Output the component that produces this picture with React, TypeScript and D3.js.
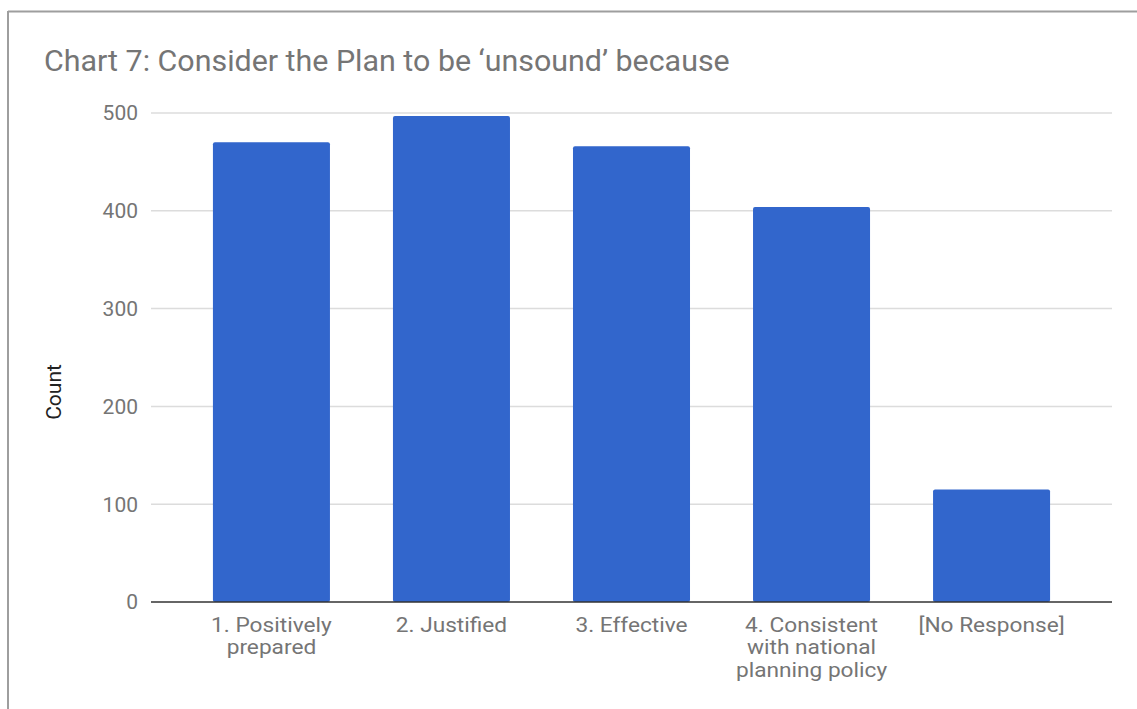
import React from "react";
import * as d3 from "d3";

const categories: string[][] = [
  ["1. Positively", "prepared"],
  ["2. Justified"],
  ["3. Effective"],
  ["4. Consistent", "with national", "planning policy"],
  ["[No Response]"],
];
const values: number[] = [470, 497, 466, 404, 115];
const yTicks: number[] = [0, 100, 200, 300, 400, 500];
const title = "Chart 7: Consider the Plan to be \u2018unsound\u2019 because";
const yTitle = "Count";

const W = 1137;
const H = 709;

export default function App() {
  const x = d3
    .scaleBand<number>()
    .domain(values.map((_, i) => i))
    .range([151, 1112])
    .paddingInner(0.35)
    .paddingOuter(0.344);
  const y = d3.scaleLinear().domain([0, 500]).range([602, 113]);
  const font = "Roboto, 'Noto Sans', sans-serif";
  return (
    <svg
      width={W}
      height={H}
      style={{ position: "absolute", left: 0, top: 0, background: "#fff" }}
      fontFamily={font}
    >
      <rect x={0} y={0} width={W} height={H} fill="#fff" />
      <line x1={8} x2={W} y1={11.5} y2={11.5} stroke="#9e9e9e" strokeWidth={2} />
      <line x1={8} x2={8} y1={11} y2={H} stroke="#9e9e9e" strokeWidth={2} />
      <text x={44} y={71} fontSize={30.4} fill="#757575">
        {title}
      </text>
      {yTicks.map((t) => (
        <g key={t}>
          {t !== 0 && (
            <line x1={151} x2={1112} y1={y(t)} y2={y(t)} stroke="#dcdcdc" strokeWidth={1.5} />
          )}
          <text x={138} y={y(t)} dy="0.35em" textAnchor="end" fontSize={21} fill="#757575">
            {t}
          </text>
        </g>
      ))}
      <text
        transform={`translate(61,${392}) rotate(-90)`}
        textAnchor="middle"
        fontSize={21}
        fill="#222"
      >
        {yTitle}
      </text>
      {values.map((v, i) => (
        <rect
          key={i}
          x={x(i)}
          y={y(v)}
          width={x.bandwidth()}
          height={y(0) - y(v)}
          fill="#3266cc"
          rx={2}
        />
      ))}
      <line x1={151} x2={1112} y1={y(0)} y2={y(0)} stroke="#333" strokeWidth={1.5} />
      {categories.map((lines, i) => (
        <text
          key={i}
          transform={`translate(${(x(i) as number) + x.bandwidth() / 2},632) scale(1.08,1)`}
          textAnchor="middle"
          fontSize={21}
          fill="#757575"
        >
          {lines.map((l, j) => (
            <tspan key={j} x={0} y={j * 22.5}>
              {l}
            </tspan>
          ))}
        </text>
      ))}
    </svg>
  );
}
